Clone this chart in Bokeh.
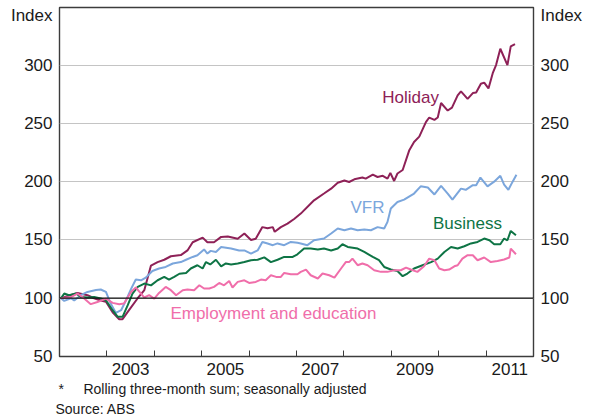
from bokeh.plotting import figure
from bokeh.models import FixedTicker, LinearAxis, Label, Span, Title
from bokeh.embed import file_html
from bokeh.resources import INLINE

# ---- data (decimal years, index values) ----
holiday_x = [2002.03, 2002.38, 2002.59, 2002.73, 2002.87, 2002.98, 2003.12, 2003.26, 2003.33, 2003.47,
             2003.65, 2003.79, 2003.93, 2004.07, 2004.21, 2004.35, 2004.56, 2004.70, 2004.81, 2005.02,
             2005.12, 2005.26, 2005.41, 2005.55, 2005.76, 2005.90, 2006.04, 2006.14, 2006.28, 2006.39,
             2006.50, 2006.54, 2006.67, 2006.81, 2006.95, 2007.09, 2007.37, 2007.58, 2007.73, 2007.87,
             2008.01, 2008.11, 2008.22, 2008.39, 2008.46, 2008.61, 2008.71, 2008.82, 2008.92, 2008.98,
             2009.06, 2009.13, 2009.24, 2009.38, 2009.48, 2009.59, 2009.73, 2009.80, 2009.91, 2009.98,
             2010.05, 2010.19, 2010.28, 2010.40, 2010.47, 2010.61, 2010.72, 2010.79, 2010.89, 2010.96,
             2011.05, 2011.14, 2011.21, 2011.30, 2011.45, 2011.52, 2011.61]
holiday_y = [100, 104.5, 102.6, 100, 98, 97, 88, 82, 82, 90,
             100, 107, 128, 131, 133, 136, 137, 141, 148, 152,
             148, 148, 152.6, 153, 151, 155.5, 150, 151, 161, 160,
             161, 157, 161, 164, 168, 172.6, 184, 189.8, 194, 199,
             201, 199.7, 202, 203.5, 202.6, 206, 204, 205, 202.6, 207.5,
             200.6, 207, 210, 227, 234, 238.6, 251, 255, 253, 255,
             267.5, 261, 263.5, 274, 277.5, 271, 276, 276.4, 284, 285,
             280, 293, 300, 314, 300, 316, 318]

vfr_x = [2002.03, 2002.10, 2002.24, 2002.31, 2002.45, 2002.59, 2002.77, 2002.87, 2002.98, 2003.08,
         2003.19, 2003.30, 2003.40, 2003.51, 2003.61, 2003.72, 2003.82, 2003.96, 2004.10, 2004.24,
         2004.39, 2004.56, 2004.67, 2004.81, 2004.91, 2005.05, 2005.12, 2005.19, 2005.30, 2005.41,
         2005.62, 2005.79, 2005.90, 2006.04, 2006.18, 2006.28, 2006.39, 2006.50, 2006.60, 2006.74,
         2006.88, 2007.02, 2007.09, 2007.23, 2007.37, 2007.58, 2007.73, 2007.87, 2008.01, 2008.15,
         2008.29, 2008.43, 2008.57, 2008.71, 2008.85, 2008.92, 2008.99, 2009.13, 2009.27, 2009.48,
         2009.62, 2009.77, 2009.91, 2010.05, 2010.19, 2010.29, 2010.47, 2010.57, 2010.72, 2010.79,
         2010.88, 2011.03, 2011.17, 2011.30, 2011.38, 2011.47, 2011.56, 2011.64]
vfr_y = [100, 97.7, 100, 98, 102.6, 105.4, 107, 107.5, 105.4, 95.4,
         87.4, 89.7, 98, 108, 116, 115.4, 117.7, 123.4, 125.5, 126.8,
         129.8, 131, 133, 135.4, 136.9, 141.8, 138.3, 140.6, 139.7, 144,
         142.6, 141, 141, 138.3, 141, 148.3, 147, 145.5, 147, 145.5,
         148.3, 147.5, 147, 145.5, 149.7, 151.2, 155.5, 159.8, 158.3, 159.8,
         158.3, 159, 158.3, 161, 159.8, 165.5, 177, 182.6, 184.6, 189.8,
         196, 195, 189, 196.4, 189.8, 184.6, 194, 193, 197, 197,
         203.5, 196, 200, 205, 197.5, 193, 200, 206]

business_x = [2002.03, 2002.10, 2002.20, 2002.35, 2002.45, 2002.59, 2002.73, 2002.87, 2002.98, 2003.12,
              2003.23, 2003.33, 2003.44, 2003.54, 2003.65, 2003.79, 2003.93, 2004.07, 2004.21, 2004.31,
              2004.42, 2004.53, 2004.67, 2004.77, 2004.91, 2005.02, 2005.09, 2005.18, 2005.30, 2005.41,
              2005.51, 2005.62, 2005.76, 2005.90, 2006.04, 2006.18, 2006.32, 2006.46, 2006.60, 2006.74,
              2006.92, 2007.02, 2007.16, 2007.30, 2007.45, 2007.58, 2007.73, 2007.87, 2007.97, 2008.08,
              2008.29, 2008.43, 2008.61, 2008.74, 2008.85, 2008.99, 2009.13, 2009.24, 2009.34, 2009.48,
              2009.66, 2009.84, 2009.98, 2010.12, 2010.26, 2010.40, 2010.54, 2010.68, 2010.82, 2010.96,
              2011.07, 2011.17, 2011.30, 2011.38, 2011.45, 2011.52, 2011.63]
business_y = [100, 104, 102.6, 104, 101, 100.6, 101, 99.7, 98.3, 89.7,
              84, 84, 94, 104, 109.7, 112.6, 111, 115.4, 118.3, 116,
              118.3, 121, 121.7, 125.5, 128.3, 125.5, 131, 129, 133, 127.4,
              129.8, 129, 129.8, 131, 132.6, 133, 135, 131, 133, 135.4,
              135.4, 137.7, 142.6, 142.6, 141.8, 142.6, 141, 142.6, 146.3, 144,
              142.6, 139.7, 135.4, 132.6, 126.8, 124.6, 123.4, 118.9, 121.2, 125.5,
              128.3, 131, 134, 139.7, 144, 142.6, 144.6, 147, 148.3, 151.2,
              149.7, 146.3, 146.3, 151.2, 149.7, 157.7, 154]

employ_x = [2002.03, 2002.24, 2002.38, 2002.52, 2002.66, 2002.80, 2002.98, 2003.12, 2003.26, 2003.36,
            2003.51, 2003.61, 2003.72, 2003.79, 2003.89, 2004.00, 2004.10, 2004.24, 2004.35, 2004.46,
            2004.60, 2004.70, 2004.84, 2004.95, 2005.05, 2005.16, 2005.26, 2005.37, 2005.47, 2005.58,
            2005.65, 2005.76, 2005.90, 2006.00, 2006.14, 2006.25, 2006.35, 2006.46, 2006.57, 2006.67,
            2006.74, 2006.88, 2007.02, 2007.09, 2007.20, 2007.30, 2007.45, 2007.55, 2007.69, 2007.80,
            2007.94, 2008.04, 2008.11, 2008.18, 2008.29, 2008.39, 2008.50, 2008.64, 2008.78, 2008.92,
            2009.06, 2009.20, 2009.31, 2009.41, 2009.55, 2009.69, 2009.80, 2009.91, 2010.01, 2010.12,
            2010.22, 2010.33, 2010.40, 2010.50, 2010.61, 2010.72, 2010.82, 2010.96, 2011.10, 2011.24,
            2011.38, 2011.49, 2011.52, 2011.63]
employ_y = [100, 101, 104, 99.7, 94.9, 96.8, 99.7, 96, 94.9, 95.4,
            105.4, 109.2, 104, 100.6, 102.6, 99.7, 104.5, 109.7, 106.9, 102.6,
            106.9, 107.5, 106.9, 111.1, 108.3, 108.3, 109.7, 113.1, 111.1, 114.8,
            109.2, 114, 115.4, 113.1, 114, 116, 115.4, 119.7, 118.3, 118.3,
            121.7, 120.6, 120.6, 122.6, 124.6, 119.7, 116.9, 121.2, 119.7, 117.7,
            125.5, 131, 131, 134, 128.3, 129.8, 128.3, 124, 122.6, 122.6,
            124, 124, 126.3, 124.6, 122.6, 127.4, 134, 132.6, 125.5, 124,
            124.6, 127.4, 128.3, 134, 136.9, 136.9, 132.6, 134.9, 131, 132,
            133.2, 134.9, 142.6, 137.7]

y_ticks = [50, 100, 150, 200, 250, 300]
y_unit = "Index"
year_minor = [2003, 2004, 2005, 2006, 2007, 2008, 2009, 2010, 2011]
year_labels = ["2003", "2005", "2007", "2009", "2011"]
footnote = "*\u00a0\u00a0\u00a0\u00a0\u00a0Rolling three-month sum; seasonally adjusted"
source = "Source: ABS"

HOL = "#8E2157"
VFR = "#7BA6DC"
BUS = "#0E7445"
EMP = "#F06EAA"
FONT = "Liberation Sans"
TXT = "#1a1a1a"

Y_TOP = 349.4
p = figure(width=594, height=417, x_range=(2002, 2012), y_range=(50, Y_TOP),
           output_backend="svg", toolbar_location=None,
           min_border_left=59, min_border_right=61, min_border_top=7, min_border_bottom=61)
p.background_fill_color = "white"
p.border_fill_color = "white"
p.outline_line_color = "#3c3c3c"
p.outline_line_width = 1.4

# x axis: labels mid-year (major, no tick), year boundaries as inward minor ticks
label_pos = [int(s) + 0.5 for s in year_labels]
xt = FixedTicker(ticks=label_pos, minor_ticks=year_minor)
xa = p.xaxis[0]
xa.ticker = xt
xa.major_label_overrides = {pos: s for pos, s in zip(label_pos, year_labels)}
xa.major_tick_line_color = None
xa.major_tick_out = 0
xa.major_tick_in = 0
xa.minor_tick_in = 6
xa.minor_tick_out = 0
xa.minor_tick_line_color = "#3c3c3c"
xa.minor_tick_line_width = 1
xa.axis_line_color = None
xa.major_label_standoff = 6
xa.major_label_text_font = FONT
xa.major_label_text_font_size = "17px"
xa.major_label_text_color = TXT

# y axes: the unit label "Index" sits at the top of each axis as an extra tick label
unit_pos = Y_TOP - 6.9
yt = FixedTicker(ticks=y_ticks + [unit_pos], minor_ticks=[])
ya = p.yaxis[0]
ya.ticker = yt
ra = LinearAxis(ticker=yt)
p.add_layout(ra, "right")
for ax in (ya, ra):
    ax.major_label_overrides = {unit_pos: y_unit}
    ax.major_tick_line_color = None
    ax.major_tick_out = 0
    ax.major_tick_in = 0
    ax.minor_tick_line_color = None
    ax.axis_line_color = None
    ax.major_label_standoff = 7
    ax.major_label_text_font = FONT
    ax.major_label_text_font_size = "17px"
    ax.major_label_text_color = TXT

p.xgrid.grid_line_color = None
p.ygrid.ticker = FixedTicker(ticks=y_ticks)
p.ygrid.grid_line_color = "#c4c4c4"
p.ygrid.grid_line_width = 1.2

p.add_layout(Span(location=100, dimension="width", line_color="#111111", line_width=1.3))

p.line(holiday_x, holiday_y, line_color=HOL, line_width=2)
p.line(vfr_x, vfr_y, line_color=VFR, line_width=2)
p.line(business_x, business_y, line_color=BUS, line_width=2)
p.line(employ_x, employ_y, line_color=EMP, line_width=2)

def lab(x, y, text, color):
    p.add_layout(Label(x=x, y=y, text=text, text_color=color, text_font=FONT,
                       text_font_size="17px", text_baseline="middle", text_align="left"))

lab(2008.81, 272.2, "Holiday", HOL)
lab(2008.14, 177.8, "VFR", VFR)
lab(2009.88, 164.1, "Business", BUS)
lab(2004.34, 87.1, "Employment and education", EMP)

for txt, off, so in ((footnote, -1, 3), (source, -4, 1)):
    p.add_layout(Title(text=txt, align="left", offset=off, standoff=so,
                       text_font=FONT, text_font_size="14px", text_font_style="normal",
                       text_color=TXT), "below")

open("out.html", "w").write(file_html(p, INLINE))
